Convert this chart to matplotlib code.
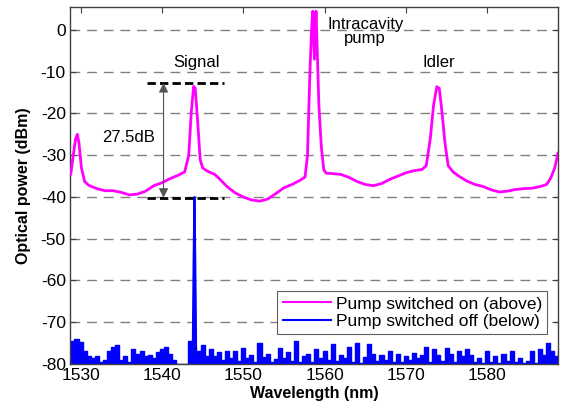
import numpy as np
import matplotlib
matplotlib.use("Agg")
import matplotlib.pyplot as plt

plt.rcParams['font.family'] = ['Liberation Sans', 'DejaVu Sans']
plt.rcParams['axes.unicode_minus'] = False

# Pump switched on (magenta)
on_wl = [1528.8, 1529.1, 1529.4, 1529.6, 1529.8, 1530.1, 1530.5, 1531.0, 1532.0, 1533.0,
         1534.0, 1535.0, 1536.0, 1537.0, 1538.0, 1539.0, 1540.0, 1541.0, 1542.0, 1542.8,
         1543.3, 1543.6, 1543.9, 1544.1, 1544.4, 1544.7, 1545.0, 1545.5, 1546.0, 1546.5,
         1547.0, 1548.0, 1549.0, 1550.0, 1551.0, 1552.0, 1553.0, 1554.0, 1555.0, 1556.0,
         1557.0, 1557.6, 1557.9, 1558.2, 1558.4, 1558.55, 1558.75, 1558.95, 1559.1, 1559.3,
         1559.6, 1559.9, 1560.2, 1561.0, 1562.0, 1563.0, 1564.0, 1565.0, 1566.0, 1567.0,
         1568.0, 1569.0, 1570.0, 1571.0, 1572.0, 1572.5, 1573.0, 1573.4, 1573.8, 1574.1,
         1574.4, 1574.8, 1575.2, 1575.8, 1576.5, 1577.5, 1578.5, 1579.5, 1580.5, 1581.5,
         1582.5, 1583.5, 1584.5, 1585.5, 1586.5, 1587.3, 1587.8, 1588.3, 1588.7]
on_dbm = [-34.5, -30, -26, -25, -27, -33, -36.3, -37.2, -38.0, -38.5,
          -38.5, -38.9, -39.5, -39.3, -38.6, -37.3, -36.6, -35.6, -34.8, -34.0,
          -30, -20, -13.5, -14, -22, -31, -33, -33.7, -34.2, -34.6,
          -35.5, -37.5, -39, -40, -40.7, -41.0, -40.5, -39.2, -37.8, -37.0,
          -36.0, -35.2, -30, -10, 0, 4.5, -7, 4.5, -5, -18,
          -28, -33.5, -34.3, -34.4, -34.6, -35.3, -36.3, -37, -37.3, -36.8,
          -35.8, -35, -34.2, -33.7, -33.4, -32.5, -26, -18, -13.6, -14,
          -19, -27, -32.5, -34, -35, -36.2, -37, -37.5, -38.3, -38.8,
          -38.6, -38.2, -38.0, -37.9, -37.5, -37, -35.5, -33, -29.5]

# Pump switched off (blue) noise floor - 0.5 nm grid from 1528.5 nm
off_wl = np.arange(1528.5, 1589.01, 0.5)
off_dbm = [-75, -74.5, -74, -74.8, -77, -78, -78.5, -78, -79.5, -79,
           -77, -76, -75.5, -79, -78, -79.5, -76.5, -77.5, -76.8, -78.2,
           -77.8, -78.5, -77.2, -76.5, -76, -77.5, -79, -80, -80, -80,
           -74.5, -76, -77, -75.5, -78, -76.5, -78, -77.2, -79, -76.8,
           -78.5, -77, -79.2, -76.2, -78.5, -77.8, -79.5, -75, -78.3, -77.5,
           -79.6, -78.8, -76.2, -78.5, -77.2, -79.3, -74.5, -79.5, -78.2, -77.5,
           -79.6, -76.5, -78.5, -77, -79, -75.2, -79.4, -77.8, -78.6, -76,
           -79.5, -75, -79.8, -78.3, -75.3, -77.5, -79.2, -77.8, -79, -76.8,
           -79.5, -77.5, -79.6, -78, -79, -77.3, -78.5, -77.8, -76, -79.5,
           -76.5, -77.8, -79.2, -76.2, -77.5, -79.5, -77, -78, -76.5, -77.8,
           -79.5, -78.5, -79.7, -77, -79.5, -78, -79.8, -77.5, -79.3, -76.8,
           -79.5, -78.6, -79.8, -79.2, -77, -79.7, -76.5, -77.8, -75, -76.8,
           -78, -77]
# residual signal line when pump is off
spike_wl = [1543.8, 1543.9, 1544.0, 1544.1, 1544.2]
spike_dbm = [-76, -55, -40, -55, -76]

yticks = [0, -10, -20, -30, -40, -50, -60, -70, -80]
xticks = [1530, 1540, 1550, 1560, 1570, 1580]
signal_top = -12.7
signal_floor = -40.2

fig = plt.figure(figsize=(5.61, 4.11), dpi=100)
ax = fig.add_axes([70/561, 47/411, 488/561, 357/411])

for yv in yticks:
    ax.axhline(yv, color='#808080', lw=1.0, ls=(0, (7, 5)), zorder=0)

ax.plot(on_wl, on_dbm, color='#ff00ff', lw=2.0, label='Pump switched on (above)', zorder=3)
ax.fill_between(off_wl, -80, off_dbm, step='mid', color='#0000ff', lw=0, zorder=2)
ax.plot(off_wl, off_dbm, color='#0000ff', lw=1.0, drawstyle='steps-mid',
        label='Pump switched off (below)', zorder=2)
ax.fill_between(spike_wl, -80, spike_dbm, color='#0000ff', lw=0, zorder=2)
ax.plot(spike_wl, spike_dbm, color='#0000ff', lw=1.5, zorder=2)

# 27.5 dB annotation
ax.hlines([signal_top, signal_floor], 1538.2, 1547.6, colors='black', lw=2.0,
          linestyles=[(0, (3, 1.5))], zorder=4)
ax.annotate('', xy=(1540.2, signal_top), xytext=(1540.2, signal_floor),
            arrowprops=dict(arrowstyle='<|-|>', color='#555555', lw=0.8,
                            mutation_scale=14, shrinkA=0, shrinkB=0), zorder=4)
ax.text(1535.9, -25.7, '27.5dB', fontsize=12, ha='center', va='center')
ax.text(1544.2, -7.7, 'Signal', fontsize=12, ha='center', va='center')
ax.text(1565.0, -0.4, 'Intracavity\npump', fontsize=12, ha='center', va='center',
        linespacing=0.95)
ax.text(1574.1, -7.7, 'Idler', fontsize=12, ha='center', va='center')

ax.set_xlim(1528.7, 1588.7)
ax.set_ylim(-80, 5.5)
ax.set_xticks(xticks)
ax.set_yticks(yticks)
ax.tick_params(direction='in', top=True, right=True, length=4, labelsize=12.5,
               pad=3, color='#404040')
for s in ax.spines.values():
    s.set_color('#404040')
    s.set_linewidth(1.0)

ax.set_xlabel('Wavelength (nm)', fontsize=11.5, fontweight='bold', labelpad=2)
ax.set_ylabel('Optical power (dBm)', fontsize=11.5, fontweight='bold', labelpad=7)

leg = ax.legend(loc='lower right', bbox_to_anchor=(0.9775, 0.084), fontsize=12.5,
                frameon=True, fancybox=False, framealpha=1, edgecolor='#606060',
                handlelength=2.8, handletextpad=0.25, borderpad=0.3, labelspacing=0.12,
                borderaxespad=0)
leg.get_frame().set_linewidth(0.8)
for line in leg.get_lines():
    line.set_linewidth(1.5)

fig.savefig('out.png', dpi=100)
